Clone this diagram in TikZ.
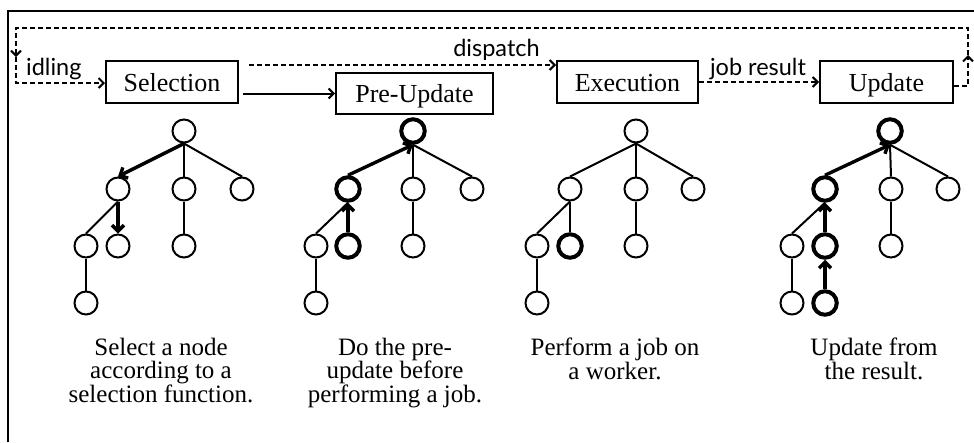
\documentclass[tikz,border=0pt]{standalone}
\usepackage{fontspec}
\setmainfont{Liberation Serif}
\newfontfamily\labelfont{Lato}
\usetikzlibrary{arrows.meta}
\begin{document}
\begin{tikzpicture}[x=1pt,y=-1pt,
 box/.style={draw,line width=2pt,minimum height=42pt,inner sep=0pt,text height=18pt,text depth=0pt,font=\fontsize{26}{28}\selectfont},
 tn/.style={circle,draw,line width=2pt,minimum size=23pt,inner sep=0pt},
 hot/.style={tn,line width=4pt,minimum size=23.5pt},
 edge/.style={line width=2pt},
 tip/.style={-{Straight Barb[length=5pt,width=10pt]}},
 hedge/.style={line width=3.4pt,-{Straight Barb[length=6pt,width=12pt]}},
 flow/.style={line width=2pt,dash pattern=on 5pt off 3pt},
 lbl/.style={font=\labelfont\fontsize{23.5}{25}\selectfont,inner sep=0pt},
 desc/.style={align=center,font=\fontsize{25}{23.3}\selectfont,inner sep=0pt,anchor=north}
]
\useasboundingbox (0,0) rectangle (974,442);
\draw[line width=2pt] (8,442) -- (8,11) -- (974,11);

% boxes
\node[box,minimum width=132pt] (sel) at (172,82) {Selection};
\node[box,minimum width=157pt,minimum height=41pt] (pre) at (414.5,93.5) {Pre-Update};
\node[box,minimum width=141pt] (exe) at (627.5,82) {Execution};
\node[box,minimum width=133pt] (upd) at (886.5,82) {Update};

% labels
\node[lbl,anchor=base west] (idl) at (26,75) {idling};
\node[lbl,anchor=base] (dsp) at (496.5,56) {dispatch};
\node[lbl,anchor=base] (jbr) at (758,75) {job result};

% flow connectors
\coordinate (r1) at (968,86);
\coordinate (rm) at (968,55);
\coordinate (rt) at (968,28);
\coordinate (lt) at (16,28);
\coordinate (lm) at (16,57);
\coordinate (lb) at (16,83);
\coordinate (ds) at (249,65);
\draw[flow,tip] ([yshift=-4pt]upd.east) -- (r1) -- (rm);
\draw[flow,tip] (rm) -- (rt) -- (lt) -- (lm);
\draw[flow,tip] (lm) -- (lb) -- (sel.west |- lb);
\draw[flow,tip] (ds) -- (exe.west |- ds);
\draw[flow,tip] (exe.east) -- (upd.west);
\draw[line width=2pt,tip,shorten <=4pt] (sel.east |- pre.west) -- (pre.west);

% tree 1
\node[tn] (a0) at (184,131) {};
\node[tn] (a1) at (118,189) {};
\node[tn] (a2) at (184,189) {};
\node[tn] (a3) at (242,189) {};
\node[tn] (a4) at (86,246) {};
\node[tn] (a5) at (118,246) {};
\node[tn] (a6) at (184,246) {};
\node[tn] (a7) at (86,303) {};
\draw[hedge] (a0.south) -- (a1.north);
\draw[edge] (a0.south) -- (a2.north);
\draw[edge] (a0.south) -- (a3.north);
\draw[edge] (a1.south) -- (a4.north);
\draw[hedge] (a1.south) -- (a5.north);
\draw[edge] (a2.south) -- (a6.north);
\draw[edge] (a4.south) -- (a7.north);

% tree 2
\node[hot] (b0) at (413,131) {};
\node[hot] (b1) at (348,189) {};
\node[tn] (b2) at (413,189) {};
\node[tn] (b3) at (472,189) {};
\node[tn] (b4) at (316,246) {};
\node[hot] (b5) at (348,246) {};
\node[tn] (b6) at (413,246) {};
\node[tn] (b7) at (316,303) {};
\draw[hedge] (b1.north) -- (b0.south);
\draw[edge] (b0.south) -- (b2.north);
\draw[edge] (b0.south) -- (b3.north);
\draw[edge] (b1.south) -- (b4.north);
\draw[hedge] (b5.north) -- (b1.south);
\draw[edge] (b2.south) -- (b6.north);
\draw[edge] (b4.south) -- (b7.north);

% tree 3
\node[tn] (c0) at (636,131) {};
\node[tn] (c1) at (570,189) {};
\node[tn] (c2) at (636,189) {};
\node[tn] (c3) at (693,189) {};
\node[tn] (c4) at (537,246) {};
\node[hot] (c5) at (570,246) {};
\node[tn] (c6) at (636,246) {};
\node[tn] (c7) at (537,303) {};
\draw[edge] (c0.south) -- (c1.north);
\draw[edge] (c0.south) -- (c2.north);
\draw[edge] (c0.south) -- (c3.north);
\draw[edge] (c1.south) -- (c4.north);
\draw[edge] (c1.south) -- (c5.north);
\draw[edge] (c2.south) -- (c6.north);
\draw[edge] (c4.south) -- (c7.north);

% tree 4
\node[hot] (d0) at (890,131) {};
\node[hot] (d1) at (825,189) {};
\node[tn] (d2) at (891,189) {};
\node[tn] (d3) at (948,189) {};
\node[tn] (d4) at (792,246) {};
\node[hot] (d5) at (825,246) {};
\node[tn] (d6) at (891,246) {};
\node[tn] (d7) at (792,303) {};
\node[hot] (d8) at (825,303) {};
\draw[hedge] (d1.north) -- (d0.south);
\draw[edge] (d0.south) -- (d2.north);
\draw[edge] (d0.south) -- (d3.north);
\draw[edge] (d1.south) -- (d4.north);
\draw[hedge] (d5.north) -- (d1.south);
\draw[edge] (d2.south) -- (d6.north);
\draw[edge] (d4.south) -- (d7.north);
\draw[hedge] (d8.north) -- (d5.south);

% descriptions
\node[desc] (t1) at (161,338) {Select a node\\according to a\\selection function.};
\node[desc] (t2) at (395,338) {Do the pre-\\update before\\performing a job.};
\node[desc] (t3) at (615,338) {Perform a job on\\a worker.};
\node[desc] (t4) at (874,338) {Update from\\the result.};
\end{tikzpicture}
\end{document}
